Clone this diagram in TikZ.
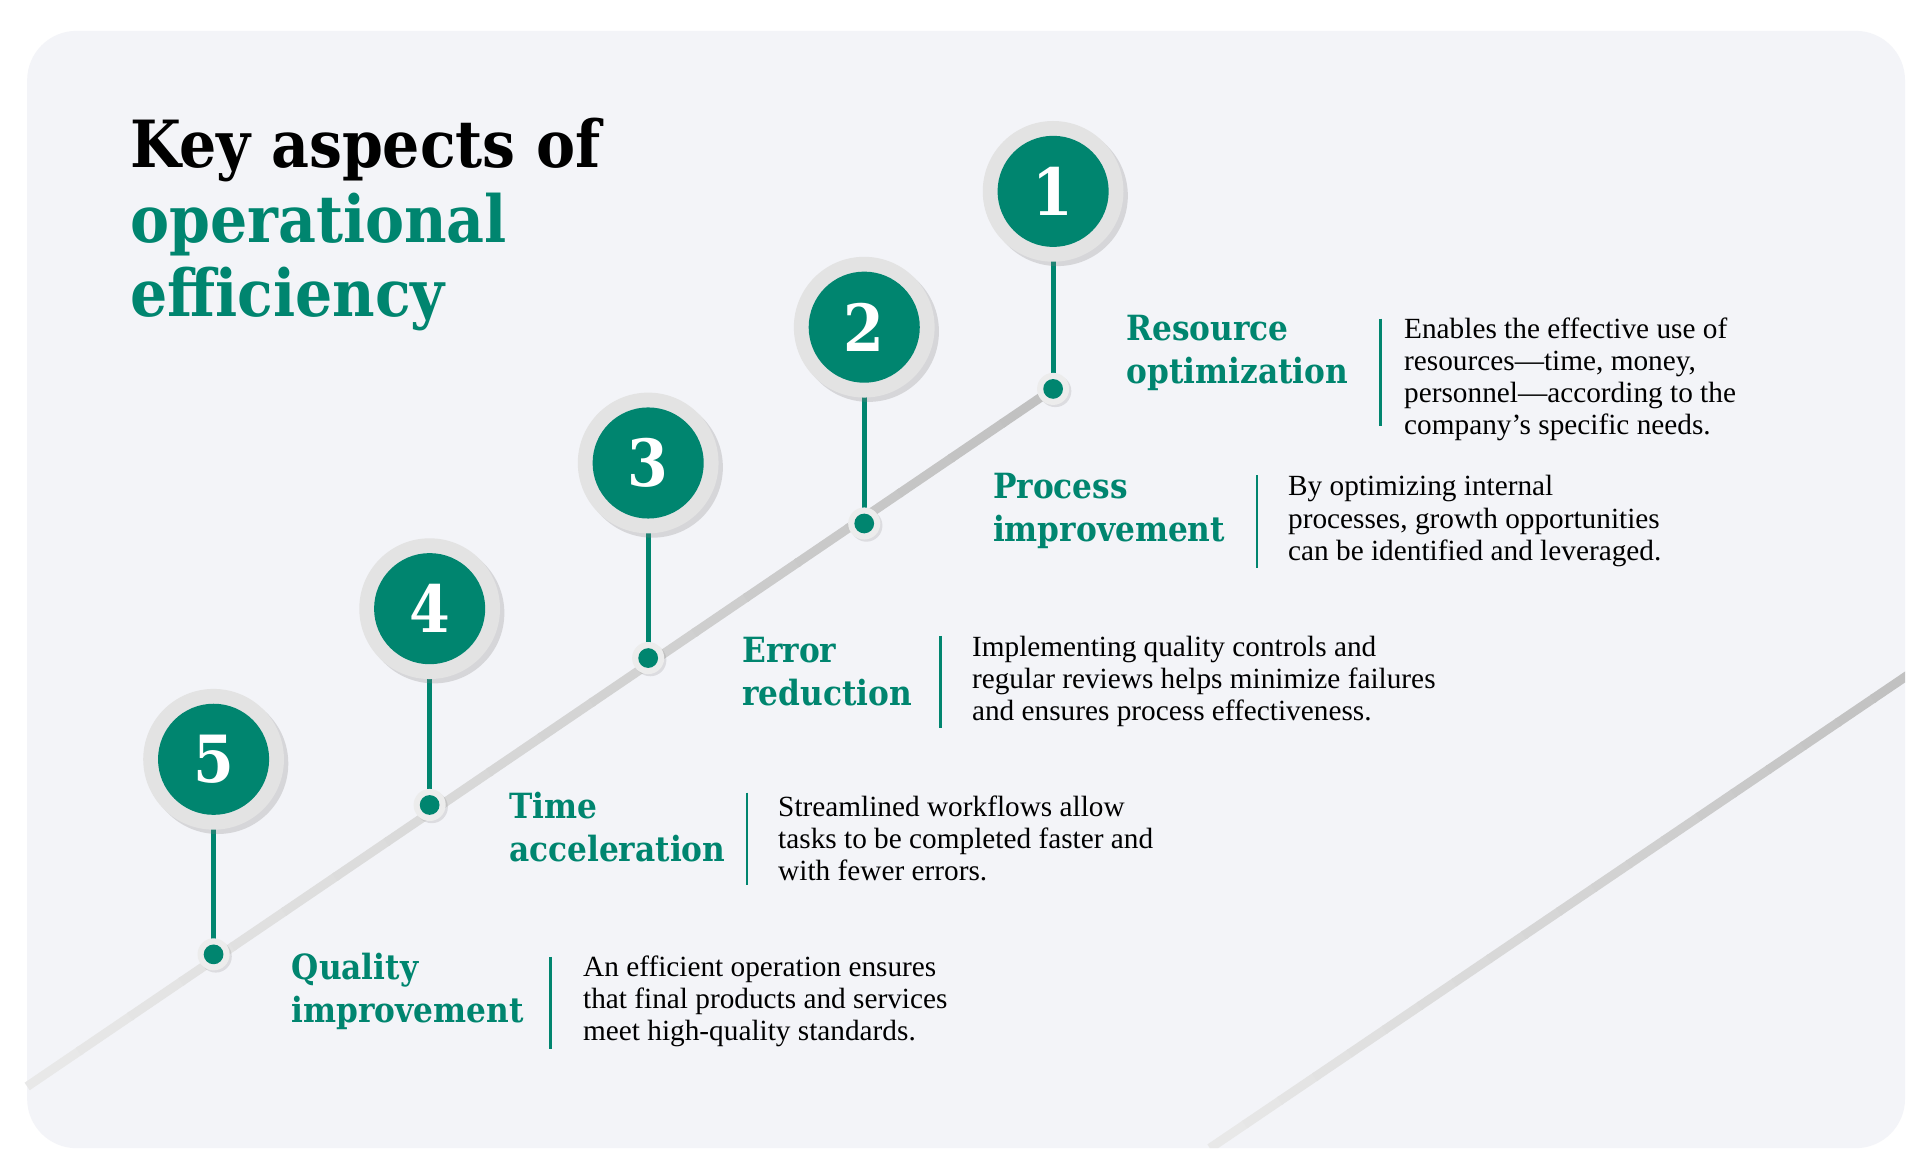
\documentclass[tikz,border=0pt]{standalone}
\usepackage{fontspec}
\setmainfont{Liberation Serif}
\newfontfamily\headfont{DejaVu Serif Condensed}
\usetikzlibrary{shadows,calc}
\definecolor{teal1}{RGB}{0,133,111}
\definecolor{bgc}{RGB}{243,244,248}
\begin{document}
\begin{tikzpicture}[x=0.02cm,y=-0.02cm,
  ring/.style={circle,fill=gray!22,minimum size=114*0.02cm,inner sep=0pt,drop shadow={opacity=0.25,shadow xshift=2pt,shadow yshift=-2pt}},
  num/.style={circle,fill=teal1,minimum size=90*0.02cm,inner sep=0pt,text=white,font=\headfont\bfseries\fontsize{30}{30}\selectfont},
  dotring/.style={circle,fill=gray!15,minimum size=26*0.02cm,inner sep=0pt,drop shadow={opacity=0.2,shadow xshift=1pt,shadow yshift=-1pt}},
  dot/.style={circle,fill=teal1,minimum size=16*0.02cm,inner sep=0pt},
  stem/.style={draw=teal1,line width=2.2pt},
  head/.style={anchor=west,align=left,text=teal1,font=\headfont\bfseries\fontsize{16}{20}\selectfont,inner sep=0pt},
  body/.style={anchor=west,align=left,font=\fontsize{13.5}{14.8}\selectfont,inner sep=0pt},
  sep/.style={draw=teal1,line width=1.2pt}]
\useasboundingbox (0,0) rectangle (1560,950);
\fill[white] (0,0) rectangle (1560,950);
\fill[bgc,rounded corners=0.8cm] (22,25) rectangle (1543,930);
% diagonal lines
\foreach \i in {0,...,19}{
  \pgfmathsetmacro\c{18+\i*1.6}
  \draw[gray!\c,line width=4.2pt] ($(22,880)!\i/20!(853,315)$) -- ($(22,880)!\i/20+0.052!(853,315)$);
}
\begin{scope}
\clip[rounded corners=0.8cm] (22,25) rectangle (1543,930);
\foreach \i in {0,...,19}{
  \pgfmathsetmacro\c{18+\i*1.6}
  \draw[gray!\c,line width=4.2pt] ($(980,930)!\i/20!(1545,547)$) -- ($(980,930)!\i/20+0.052!(1545,547)$);
}
\end{scope}
% title
\node[anchor=north west,align=left,inner sep=0pt,font=\headfont\bfseries\fontsize{30}{34.5}\selectfont] (title) at (105,95)
 {Key aspects of\\\textcolor{teal1}{operational}\\\textcolor{teal1}{efficiency}};
% steps
\foreach \n/\x/\cy/\dy in {1/853/155/315,2/700/265/424,3/525/375/533,4/348/493/652,5/173/615/773}{
  \draw[stem] (\x,\cy) -- (\x,\dy);
  \node[dotring] (dr\n) at (\x,\dy) {};
  \node[dot] (d\n) at (\x,\dy) {};
  \node[ring] (r\n) at (\x,\cy) {};
  \node[num] (c\n) at (\x,\cy) {\n};
}
% labels
\node[head] (h1) at (912,286) {Resource\\optimization};
\draw[sep] (1118,258) -- (1118,345);
\node[body] (b1) at (1137,307) {Enables the effective use of\\resources—time, money,\\personnel—according to the\\company’s specific needs.};
\node[head] (h2) at (804,414) {Process\\improvement};
\draw[sep] (1018,385) -- (1018,460);
\node[body] (b2) at (1043,422) {By optimizing internal\\processes, growth opportunities\\can be identified and leveraged.};
\node[head] (h3) at (601,544) {Error\\reduction};
\draw[sep] (762,515) -- (762,590);
\node[body] (b3) at (787,552) {Implementing quality controls and\\regular reviews helps minimize failures\\and ensures process effectiveness.};
\node[head] (h4) at (412,670) {Time\\acceleration};
\draw[sep] (605,642) -- (605,717);
\node[body] (b4) at (630,679) {Streamlined workflows allow\\tasks to be completed faster and\\with fewer errors.};
\node[head] (h5) at (236,803) {Quality\\improvement};
\draw[sep] (446,775) -- (446,850);
\node[body] (b5) at (472,811) {An efficient operation ensures\\that final products and services\\meet high-quality standards.};
\end{tikzpicture}
\end{document}
